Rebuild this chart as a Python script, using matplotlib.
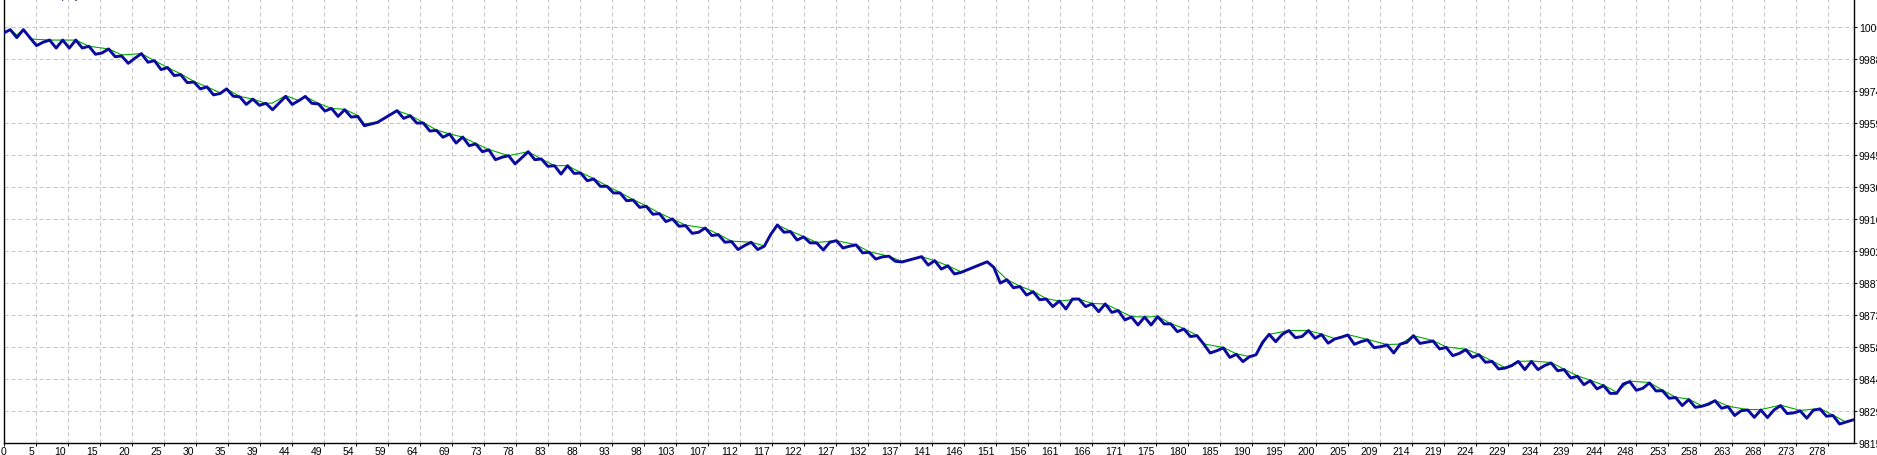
import numpy as np
import matplotlib
matplotlib.use('Agg')
from matplotlib import pyplot as plt
from matplotlib import transforms

# кривая баланса (номер сделки -> баланс)
balance_trades = [0, 1, 2, 3, 5, 6, 7, 8, 9, 10, 11, 12, 13, 14, 15, 16, 17, 18, 19, 20,
                  21, 22, 23, 24, 25, 26, 27, 28, 29, 30, 31, 32, 33, 34, 35, 36, 37, 38, 39, 40,
                  41, 42, 43, 44, 45, 46, 47, 48, 49, 50, 51, 52, 53, 54, 55, 57, 60, 61, 62, 63,
                  64, 65, 66, 67, 68, 69, 70, 71, 72, 73, 74, 75, 76, 77, 78, 80, 81, 82, 83, 84,
                  85, 86, 87, 88, 89, 90, 91, 92, 93, 94, 95, 96, 97, 98, 99, 100, 101, 102, 103, 104,
                  105, 106, 107, 108, 109, 110, 111, 112, 113, 114, 115, 116, 117, 118, 119, 120, 121, 122, 123, 124,
                  125, 126, 127, 128, 129, 130, 131, 132, 133, 134, 135, 136, 137, 140, 141, 142, 143, 144, 145, 146,
                  150, 151, 152, 153, 154, 155, 156, 157, 158, 159, 160, 161, 162, 163, 164, 165, 166, 167, 168, 169,
                  170, 171, 172, 173, 174, 175, 176, 177, 178, 179, 180, 181, 182, 183, 184, 185, 186, 187, 188, 189,
                  190, 191, 192, 193, 194, 195, 196, 197, 198, 199, 200, 201, 202, 203, 204, 205, 206, 207, 208, 209,
                  210, 211, 212, 213, 214, 215, 216, 218, 219, 220, 221, 222, 223, 224, 225, 226, 227, 228, 229, 230,
                  231, 232, 233, 234, 235, 236, 237, 238, 239, 240, 241, 242, 243, 244, 245, 246, 247, 248, 249, 250,
                  251, 252, 253, 254, 255, 256, 257, 258, 259, 260, 261, 262, 263, 264, 265, 266, 267, 268, 269, 270,
                  271, 272, 273, 274, 275, 276, 277, 278, 279, 280, 282]
balance_values = [100004, 100019, 99983, 100019, 99947, 99962, 99972, 99936, 99972, 99936, 99972, 99936, 99944, 99908, 99914, 99932, 99897, 99900, 99867, 99890,
                  99911, 99872, 99879, 99839, 99848, 99812, 99816, 99780, 99783, 99752, 99761, 99725, 99731, 99752, 99719, 99716, 99682, 99706, 99678, 99687,
                  99658, 99688, 99718, 99682, 99699, 99718, 99687, 99684, 99652, 99664, 99628, 99658, 99625, 99628, 99586, 99601, 99654, 99619, 99631, 99598,
                  99598, 99562, 99565, 99534, 99549, 99508, 99535, 99496, 99504, 99469, 99477, 99433, 99444, 99451, 99414, 99469, 99433, 99436, 99403, 99406,
                  99368, 99406, 99371, 99373, 99338, 99346, 99313, 99313, 99283, 99283, 99248, 99251, 99218, 99223, 99187, 99190, 99154, 99166, 99133, 99136,
                  99101, 99106, 99125, 99091, 99095, 99061, 99064, 99028, 99046, 99061, 99028, 99043, 99097, 99139, 99106, 99109, 99071, 99085, 99058, 99058,
                  99026, 99061, 99068, 99035, 99043, 99049, 99013, 99016, 98985, 98995, 98998, 98975, 98972, 98996, 98958, 98978, 98940, 98955, 98918, 98925,
                  98973, 98948, 98877, 98892, 98856, 98861, 98823, 98838, 98802, 98805, 98771, 98796, 98760, 98805, 98805, 98771, 98783, 98748, 98783, 98745,
                  98753, 98711, 98724, 98688, 98724, 98688, 98726, 98693, 98693, 98658, 98670, 98636, 98640, 98603, 98562, 98572, 98585, 98542, 98556, 98523,
                  98545, 98554, 98610, 98646, 98613, 98646, 98663, 98631, 98636, 98663, 98628, 98645, 98606, 98625, 98633, 98643, 98601, 98613, 98621, 98586,
                  98590, 98598, 98562, 98602, 98610, 98640, 98605, 98616, 98580, 98587, 98550, 98560, 98577, 98542, 98554, 98520, 98524, 98490, 98494, 98505,
                  98524, 98487, 98524, 98487, 98505, 98517, 98482, 98487, 98449, 98457, 98419, 98437, 98400, 98415, 98380, 98380, 98422, 98433, 98394, 98403,
                  98427, 98391, 98392, 98358, 98361, 98325, 98352, 98317, 98322, 98331, 98347, 98313, 98320, 98280, 98302, 98305, 98272, 98305, 98271, 98305,
                  98325, 98289, 98292, 98301, 98268, 98304, 98310, 98277, 98280, 98242, 98260]

# кривая средств (equity)
equity_trades = [0, 1, 2, 3, 4, 7, 9, 11, 13, 16, 18, 21, 23, 25, 27, 29, 31, 33, 34, 36,
                 38, 40, 41, 43, 45, 46, 48, 50, 52, 54, 55, 57, 60, 62, 64, 66, 68, 70, 72, 74,
                 77, 80, 82, 84, 86, 88, 90, 92, 94, 96, 98, 100, 102, 104, 107, 109, 111, 114, 116, 118,
                 120, 122, 124, 127, 130, 132, 135, 137, 140, 142, 144, 146, 150, 151, 153, 155, 157, 159, 161, 164,
                 166, 168, 170, 172, 174, 176, 178, 180, 182, 183, 186, 188, 190, 191, 193, 196, 199, 201, 203, 205,
                 208, 211, 213, 215, 218, 220, 223, 225, 227, 229, 231, 233, 236, 238, 240, 242, 244, 246, 248, 251,
                 253, 255, 257, 259, 261, 263, 266, 268, 271, 274, 277, 279, 281, 282]
equity_values = [100004, 100019, 99995, 100019, 99977, 99972, 99972, 99972, 99944, 99932, 99905, 99911, 99879, 99848, 99820, 99786, 99761, 99735, 99752, 99718,
                 99706, 99687, 99688, 99722, 99699, 99718, 99687, 99664, 99660, 99632, 99595, 99601, 99654, 99633, 99600, 99567, 99549, 99535, 99506, 99479,
                 99451, 99469, 99436, 99406, 99406, 99375, 99348, 99315, 99285, 99253, 99225, 99192, 99166, 99138, 99125, 99097, 99066, 99061, 99045, 99139,
                 99111, 99087, 99060, 99068, 99050, 99018, 98998, 98975, 98996, 98978, 98955, 98928, 98973, 98950, 98893, 98863, 98840, 98807, 98796, 98805,
                 98785, 98783, 98755, 98726, 98724, 98726, 98695, 98672, 98642, 98603, 98587, 98558, 98546, 98554, 98646, 98663, 98663, 98647, 98627, 98645,
                 98623, 98600, 98602, 98640, 98618, 98589, 98579, 98556, 98526, 98496, 98524, 98526, 98519, 98489, 98459, 98439, 98417, 98385, 98435, 98429,
                 98394, 98363, 98354, 98324, 98349, 98322, 98307, 98307, 98327, 98303, 98312, 98282, 98250, 98262]

x_tick_labels = [0, 5, 10, 15, 20, 25, 30, 35, 39, 44, 49, 54, 59, 64, 69, 73, 78, 83, 88, 93,
                 98, 103, 107, 112, 117, 122, 127, 132, 137, 141, 146, 151, 156, 161, 166, 171, 175, 180, 185, 190,
                 195, 200, 205, 209, 214, 219, 224, 229, 234, 239, 244, 248, 253, 258, 263, 268, 273, 278]
y_tick_values = [98155.0, 98299.2, 98443.4, 98587.6, 98731.8, 98876.0, 99020.2, 99164.4,
                 99308.6, 99452.8, 99597.0, 99741.2, 99885.4, 100029.6, 100173.8]

TICK_STEP = 4.881  # сделок на одно деление шкалы
W, H = 1877, 456

fig = plt.figure(figsize=(W / 100, H / 100), dpi=100)
ax = fig.add_axes([3.7 / W, (H - 444.3) / H, (1854 - 3.7) / W, 444.3 / H])

ax.plot(equity_trades, equity_values, color='#00a800', lw=0.8, zorder=2)
ax.plot(balance_trades, balance_values, color='#0a0a9e', lw=2.1, zorder=3)

ax.set_xlim(0, 282.2)
ax.set_ylim(98155, 100157)

font = dict(family=['Liberation Sans Narrow', 'Liberation Sans', 'DejaVu Sans'], size=7.5)
ax.set_xticks(np.arange(len(x_tick_labels)) * TICK_STEP, [str(v) for v in x_tick_labels], **font)
ax.yaxis.tick_right()
ax.set_yticks(y_tick_values[:-1], [str(int(round(v))) for v in y_tick_values[:-1]], **font)
ax.tick_params(axis='both', direction='out', length=2, width=0.7, color='black')
ax.tick_params(axis='x', pad=0.3)
ax.tick_params(axis='y', pad=1.5)

# подписи по X стоят слева от деления и заканчиваются у него
offset = transforms.ScaledTranslation(-1.5 / 100, 0, fig.dpi_scale_trans)
for i, lbl in enumerate(ax.get_xticklabels()):
    if i == 0:
        lbl.set_ha('center')
    else:
        lbl.set_ha('right')
        lbl.set_transform(lbl.get_transform() + offset)

# верхняя подпись шкалы, обрезанная краем картинки
ax.annotate(str(int(round(y_tick_values[-1]))), xy=(1.0, y_tick_values[-1]),
            xycoords=transforms.blended_transform_factory(ax.transAxes, ax.transData),
            xytext=(3.5, 0), textcoords='offset points',
            ha='left', va='center', annotation_clip=False, **font)

# легенда тестера, почти целиком за верхним краем
fig.text(5 / W, 1 - 1.0 / H, 'Balance / Equity', color='#1a1a50', ha='left', va='bottom', **font)

ax.grid(True, color='#c4c4c4', ls=(0, (4, 3)), lw=0.72)
ax.set_axisbelow(True)
ax.spines['top'].set_visible(False)
for side in ('left', 'right', 'bottom'):
    ax.spines[side].set_linewidth(1.0)
    ax.spines[side].set_color('black')

fig.savefig('out.png', dpi=100)
